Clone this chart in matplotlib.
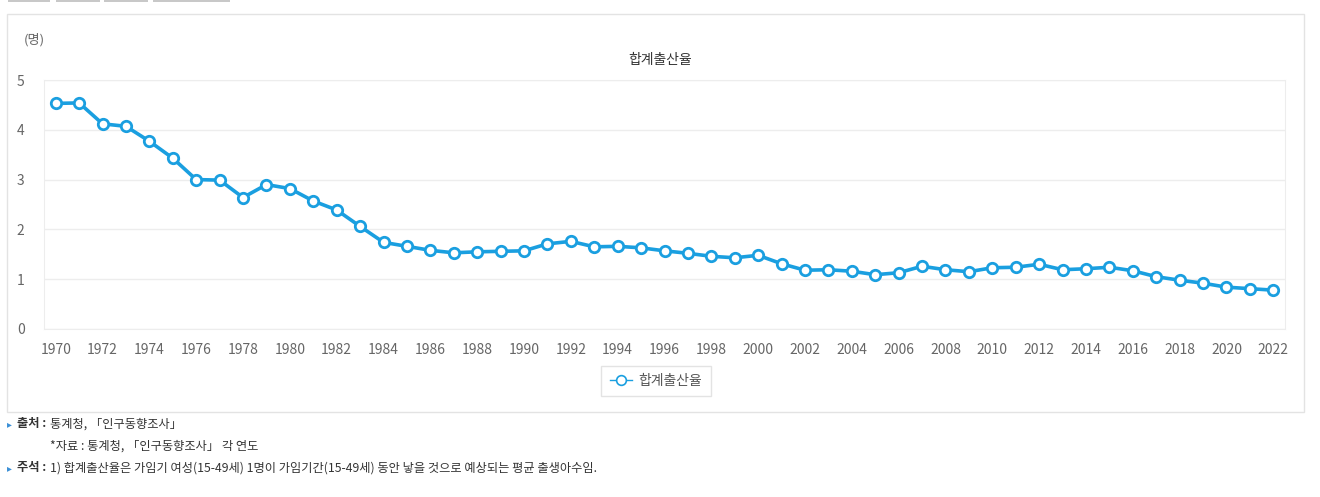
import numpy as np
import matplotlib
matplotlib.use("Agg")
import matplotlib.pyplot as plt
from matplotlib.patches import Rectangle

plt.rcParams['font.family'] = ['Noto Sans CJK KR', 'DejaVu Sans']

years = list(range(1970, 2023))
tfr = [4.53, 4.54, 4.12, 4.07, 3.77, 3.43, 3.00, 2.99, 2.64, 2.90,
       2.82, 2.57, 2.39, 2.06, 1.74, 1.66, 1.58, 1.53, 1.55, 1.56,
       1.57, 1.71, 1.76, 1.65, 1.66, 1.63, 1.57, 1.52, 1.46, 1.43,
       1.48, 1.31, 1.18, 1.19, 1.16, 1.09, 1.13, 1.26, 1.19, 1.15,
       1.23, 1.24, 1.30, 1.19, 1.21, 1.24, 1.17, 1.05, 0.98, 0.92,
       0.84, 0.81, 0.78]
series_name = '합계출산율'
unit_label = '(명)'
notes = ['통계청, 「인구동향조사」',
         '*자료 : 통계청, 「인구동향조사」 각 연도',
         '1) 합계출산율은 가임기 여성(15-49세) 1명이 가임기간(15-49세) 동안 낳을 것으로 예상되는 평균 출생아수임.']

W, H = 1320, 497
fig = plt.figure(figsize=(W / 100, H / 100), dpi=100)

def fx(px):
    return px / W

def fy(py):
    return 1 - py / H

# top tab buttons (cut off)
for x0, x1 in [(8, 50), (56, 100), (104, 148), (153, 230)]:
    fig.patches.append(Rectangle((fx(x0), fy(2)), fx(x1 - x0), 3 / H,
                                 transform=fig.transFigure, facecolor='#c8c8c8',
                                 edgecolor='none', zorder=-2))

# outer panel
fig.patches.append(Rectangle((fx(7), fy(412)), fx(1304 - 7), (412 - 14) / H,
                             transform=fig.transFigure, facecolor='white',
                             edgecolor='#e3e3e3', linewidth=1, zorder=-2))

ax = fig.add_axes([fx(44), fy(329), fx(1285 - 44), (329 - 80) / H])
ax.patch.set_alpha(0)
color = '#1a9fe0'
ax.plot(years, tfr, color=color, lw=2.6, marker='o', ms=7.5,
        mfc='white', mec=color, mew=2, label=series_name, zorder=3)

ax.set_xlim(1969.5, 2022.5)
ax.set_ylim(0, 5)
ax.set_yticks(range(0, 6))
ax.set_xticks(years[::2])
ax.grid(axis='y', color='#ededed', lw=1)
for s in ax.spines.values():
    s.set_color('#ededed')
ax.tick_params(length=0, labelsize=10, colors='#666666')
ax.tick_params(axis='x', pad=10)
ax.tick_params(axis='y', pad=14)
for lab in ax.get_xticklabels():
    lab.set_fontstretch('condensed')

fig.text(fx(660), fy(60), series_name, ha='center', va='center',
         fontsize=10, color='#333333')
fig.text(fx(24), fy(40), unit_label, ha='left', va='center',
         fontsize=9.5, color='#666666')

leg = fig.legend(loc='center', bbox_to_anchor=(fx(656), fy(381)),
                 frameon=True, fontsize=10, handlelength=1.6,
                 fancybox=False, edgecolor='#dddddd', borderpad=0.6,
                 handletextpad=0.5)
leg.get_frame().set_linewidth(1)
for t in leg.get_texts():
    t.set_color('#555555')
for h in leg.legend_handles:
    h.set_linewidth(1)
    h.set_markersize(7)
    h.set_markeredgewidth(1.2)

# footnotes
tri_col = '#3a8fd6'
fs = 8.8
fig.text(fx(7), fy(424), '▸', fontsize=7, color=tri_col, va='center')
fig.text(fx(17), fy(424), '출처 :', fontsize=fs, fontweight='bold',
         color='#333333', va='center')
fig.text(fx(50), fy(424), notes[0], fontsize=fs, color='#333333', va='center')
fig.text(fx(50), fy(446), notes[1], fontsize=fs, color='#333333', va='center')
fig.text(fx(7), fy(468), '▸', fontsize=7, color=tri_col, va='center')
fig.text(fx(17), fy(468), '주석 :', fontsize=fs, fontweight='bold',
         color='#333333', va='center')
fig.text(fx(50), fy(468), notes[2], fontsize=fs, color='#333333', va='center')

fig.savefig('out.png', dpi=100)
